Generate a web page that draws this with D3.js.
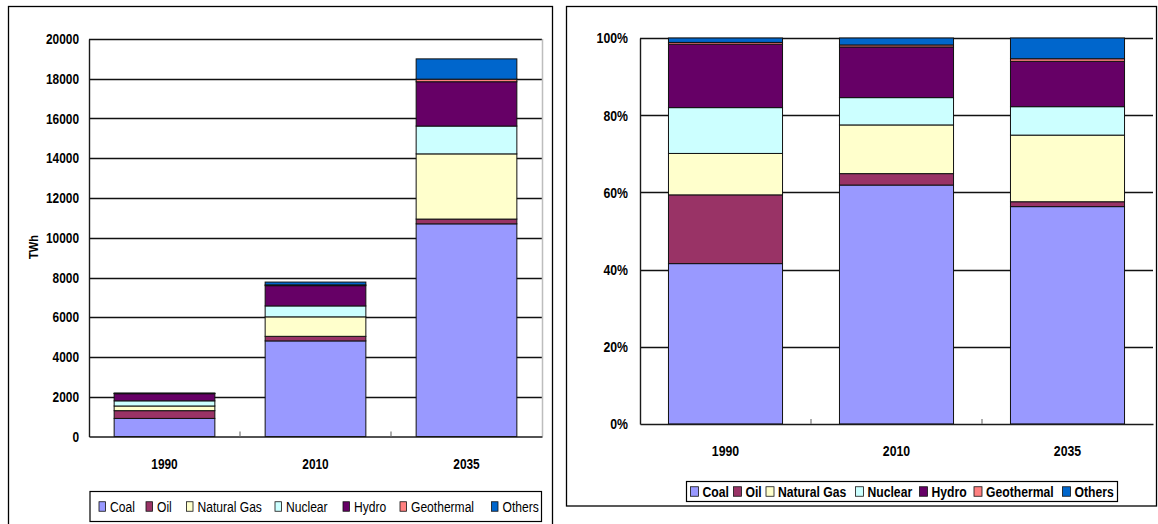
<!DOCTYPE html>
<html>
<head>
<meta charset="utf-8">
<script src="https://cdn.jsdelivr.net/npm/d3@7"></script>
<style>
  html, body { margin: 0; padding: 0; background: #fff; }
  svg { display: block; }
  text { font-family: "Liberation Sans", Arial, sans-serif; fill: #000; }
</style>
</head>
<body>
<svg id="chart" width="1158" height="524"></svg>
<script>
// Electricity generation by source (TWh)
const years = ["1990", "2010", "2035"];
const sources = ["Coal", "Oil", "Natural Gas", "Nuclear", "Hydro", "Geothermal", "Others"];
const coal       = [910, 4810, 10700];
const oil        = [390, 230, 240];
const naturalGas = [235, 980, 3280];
const nuclear    = [260, 550, 1400];
const hydro      = [360, 1020, 2230];
const geothermal = [10, 40, 130];
const others     = [25, 140, 1020];
const sourceColors = ["#9999FF", "#993366", "#FFFFCC", "#CCFFFF", "#660066", "#FF8080", "#0066CC"];
const twhTicks = [0, 2000, 4000, 6000, 8000, 10000, 12000, 14000, 16000, 18000, 20000];
const pctTicks = [0, 0.2, 0.4, 0.6, 0.8, 1];

const seriesValues = [coal, oil, naturalGas, nuclear, hydro, geothermal, others];
const rows = years.map((y, i) => {
  const r = { year: y };
  sources.forEach((s, k) => { r[s] = seriesValues[k][i]; });
  return r;
});
const color = d3.scaleOrdinal().domain(sources).range(sourceColors);

// narrow the sans face horizontally to get a condensed look
const SQ = 0.82;

const svg = d3.select("#chart");

function panel(cfg) {
  const g = svg.append("g");
  // outer frame
  g.append("rect")
    .attr("x", cfg.frame[0]).attr("y", cfg.frame[1])
    .attr("width", cfg.frame[2]).attr("height", cfg.frame[3])
    .attr("fill", "#fff").attr("stroke", "#000").attr("stroke-width", 1.3);

  const x = d3.scaleBand().domain(years).range([cfg.left, cfg.right]).paddingInner(0.333).paddingOuter(0.1665);
  const y = d3.scaleLinear().domain(cfg.domain).range([cfg.bottom, cfg.top]);

  // horizontal gridlines
  g.append("g").selectAll("line").data(cfg.ticks.slice(1)).join("line")
    .attr("x1", cfg.left).attr("x2", cfg.right)
    .attr("y1", d => Math.round(y(d)) + 0.5).attr("y2", d => Math.round(y(d)) + 0.5)
    .attr("stroke", "#111").attr("stroke-width", 1.4);

  if (cfg.rightEdge) {
    g.append("line").attr("x1", cfg.right + 0.5).attr("x2", cfg.right + 0.5)
      .attr("y1", cfg.top).attr("y2", cfg.bottom)
      .attr("stroke", "#bdbdbd").attr("stroke-width", 1.5);
  }

  // stacked bars
  const stack = d3.stack().keys(sources);
  if (cfg.expand) stack.offset(d3.stackOffsetExpand);
  const layers = stack(rows);
  g.append("g").selectAll("g").data(layers).join("g")
    .attr("fill", d => color(d.key))
    .selectAll("rect").data(d => d).join("rect")
    .attr("x", d => x(d.data.year))
    .attr("width", x.bandwidth())
    .attr("y", d => y(d[1]))
    .attr("height", d => Math.max(0, y(d[0]) - y(d[1])))
    .attr("stroke", "#111").attr("stroke-width", 1);

  // value axis
  const yAxis = g.append("g").attr("transform", `translate(${cfg.left},0)`)
    .call(d3.axisLeft(y).tickValues(cfg.ticks).tickFormat(cfg.fmt).tickSize(0).tickPadding(cfg.tickPad / SQ));
  yAxis.select(".domain").attr("stroke", "#1a1a1a").attr("stroke-width", 1.4);
  yAxis.selectAll("text").attr("font-size", cfg.tickSize).attr("font-weight", "bold")
    .attr("transform", `scale(${SQ},1)`);

  // category axis with inner ticks between categories
  const xAxis = g.append("g").attr("transform", `translate(0,${cfg.bottom})`)
    .call(d3.axisBottom(x).tickSize(0).tickPadding(cfg.catPad));
  xAxis.select(".domain").attr("stroke", "#1a1a1a").attr("stroke-width", 1.6);
  xAxis.selectAll("text").attr("font-size", cfg.tickSize).attr("font-weight", "bold")
    .attr("transform", `scale(${SQ},1)`);
  const step = x.step();
  g.append("g").selectAll("line").data(d3.range(1, years.length)).join("line")
    .attr("x1", d => cfg.left + d * step).attr("x2", d => cfg.left + d * step)
    .attr("y1", cfg.bottom).attr("y2", cfg.bottom - 5)
    .attr("stroke", "#777").attr("stroke-width", 1.2);

  // legend
  const L = cfg.legend;
  const lg = g.append("g");
  lg.append("rect")
    .attr("x", L.x).attr("y", L.y)
    .attr("width", L.w).attr("height", L.h)
    .attr("fill", "#fff").attr("stroke", "#000").attr("stroke-width", 1.2);
  const items = lg.selectAll("g").data(sources).join("g")
    .attr("transform", (d, i) => `translate(${L.items[i]},${L.cy})`);
  items.append("rect")
    .attr("x", 0).attr("y", -L.sh / 2)
    .attr("width", L.sw).attr("height", L.sh)
    .attr("fill", d => color(d)).attr("stroke", "#111").attr("stroke-width", 0.8);
  items.append("text")
    .attr("transform", `translate(${L.sw + L.gap},0) scale(${L.sq},1)`)
    .attr("dy", "0.35em")
    .attr("font-size", L.fs).attr("font-weight", L.fw)
    .text(d => d);
  return { g, x, y };
}

// absolute generation (TWh)
const left = panel({
  frame: [8.5, 6.5, 544, 530],
  left: 89, right: 542, top: 39, bottom: 436.5,
  domain: [0, 20000], ticks: twhTicks, fmt: d3.format("d"),
  tickSize: 14.5, tickPad: 10, catPad: 22, rightEdge: true,
  legend: { x: 90, y: 491.5, w: 451.5, h: 30, cy: 506.5, sw: 6.5, sh: 9.5, gap: 4.5, fs: 15.5, fw: "normal", sq: 0.78,
            items: [99, 146, 186.5, 275, 343, 400, 491.5] }
});
left.g.append("text")
  .attr("transform", "translate(38,247) rotate(-90) scale(0.85,1)")
  .attr("text-anchor", "middle")
  .attr("font-size", 13).attr("font-weight", "bold")
  .text("TWh");

// share of generation (%)
panel({
  frame: [566.5, 6.5, 590, 499.5],
  left: 640, right: 1153, top: 38, bottom: 424,
  domain: [0, 1], ticks: pctTicks, fmt: d3.format(".0%"),
  tickSize: 15, tickPad: 12, catPad: 21, expand: true,
  legend: { x: 686.5, y: 481.5, w: 431, h: 20, cy: 491.5, sw: 8, sh: 9.5, gap: 4, fs: 14.5, fw: "bold", sq: 0.84,
            items: [690.5, 733.5, 766, 855.5, 919.5, 974, 1062.5] }
});
</script>
</body>
</html>
